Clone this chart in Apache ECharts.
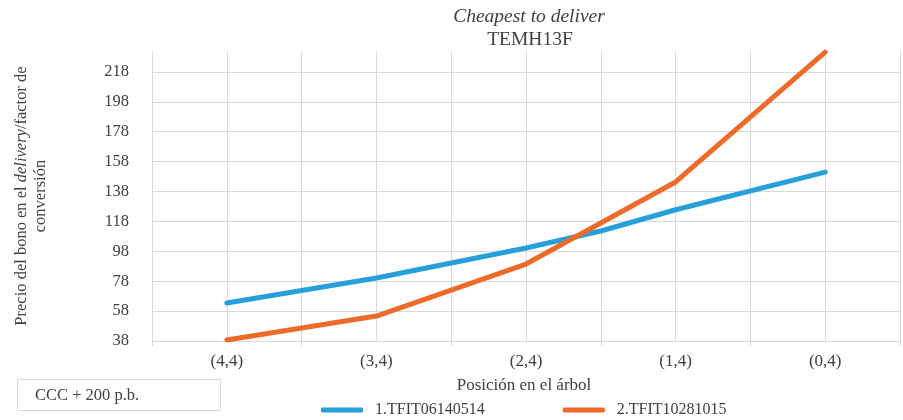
<!DOCTYPE html>
<html>
<head>
<meta charset="utf-8">
<script src="https://cdn.jsdelivr.net/npm/echarts@6/dist/echarts.min.js"></script>
<style>html,body{margin:0;padding:0;background:#fff;}#c{width:903px;height:420px;}</style>
</head>
<body>
<div id="c"></div>
<script>
// Positions along the tree (blank slots are intermediate grid columns)
const positions = ['', '(4,4)', '', '(3,4)', '', '(2,4)', '', '(1,4)', '', '(0,4)', ''];
const seriesNames = ['1.TFIT06140514', '2.TFIT10281015'];
const bond1 = [null, 63.4, null, 80.1, null, 100.2, 111.6, 125.8, null, 151.0, null];
const bond2 = [null, 38.7, null, 54.7, null, 89.5, null, 144.4, null, 231.3, null];
const yMin = 38, yMax = 232, yStep = 20;

const FONT = 'Liberation Serif';
const TXT = '#404040';
const GRID = '#d9d9d9';

const chart = echarts.init(document.getElementById('c'), null, {renderer: 'canvas'});
const nSplit = Math.floor((yMax - yMin) / yStep) + 2;
const splitColors = [];
for (let i = 0; i < nSplit; i++) splitColors.push(i === nSplit - 1 ? 'transparent' : GRID);

chart.setOption({
  animation: false,
  backgroundColor: '#fff',
  grid: {left: 152, right: -1, top: 51, bottom: 79, containLabel: false},
  xAxis: {
    type: 'category',
    data: positions,
    boundaryGap: false,
    axisLine: {show: true, lineStyle: {color: GRID, width: 1}},
    axisTick: {show: true, length: 5, lineStyle: {color: GRID}, interval: (i) => i % 2 === 0},
    axisLabel: {interval: 0, color: TXT, fontFamily: FONT, fontSize: 17, margin: 12},
    splitLine: {show: true, interval: 0, lineStyle: {color: GRID, width: 1}}
  },
  yAxis: {
    type: 'value',
    min: yMin, max: yMax, interval: yStep,
    axisLine: {show: false},
    axisTick: {show: false},
    axisLabel: {color: TXT, fontFamily: FONT, fontSize: 16.5, margin: 23, showMaxLabel: false},
    splitLine: {show: true, lineStyle: {color: splitColors, width: 1}}
  },
  legend: {
    left: 321, top: 402, padding: 0,
    itemWidth: 42, itemHeight: 5, itemGap: 78,
    icon: 'roundRect',
    textStyle: {color: TXT, fontFamily: FONT, fontSize: 16, padding: [0, 0, 0, 7]},
    data: seriesNames
  },
  series: [
    {name: seriesNames[0], type: 'line', data: bond1, connectNulls: true, symbol: 'none', clip: false,
     itemStyle: {color: '#27a0da'},
     lineStyle: {color: '#27a0da', width: 5, cap: 'round', join: 'round'}},
    {name: seriesNames[1], type: 'line', data: bond2, connectNulls: true, symbol: 'none', clip: false,
     itemStyle: {color: '#ee6a28'},
     lineStyle: {color: '#ee6a28', width: 5, cap: 'round', join: 'round'}}
  ],
  graphic: [
    {type: 'text', x: 529, y: 17, style: {text: 'Cheapest to deliver', fill: TXT, font: 'italic 19.5px "Liberation Serif"', align: 'center', verticalAlign: 'middle'}},
    {type: 'text', x: 530, y: 40, style: {text: 'TEMH13F', fill: TXT, font: '19.5px "Liberation Serif"', align: 'center', verticalAlign: 'middle'}},
    {type: 'text', x: 524, y: 386, style: {text: 'Posición en el árbol', fill: TXT, font: '17px "Liberation Serif"', align: 'center', verticalAlign: 'middle'}},
    {type: 'text', x: 31, y: 196, rotation: Math.PI / 2,
     style: {
       text: '{n|Precio del bono en el }{i|delivery}{n|/factor de}\n{n|conversión}',
       align: 'center', verticalAlign: 'middle', fill: TXT,
       rich: {
         n: {fontFamily: FONT, fontSize: 16.5, color: TXT, lineHeight: 19},
         i: {fontFamily: FONT, fontSize: 16.5, fontStyle: 'italic', color: TXT, lineHeight: 19}
       }
     }},
    {type: 'rect', shape: {x: 17.5, y: 379.5, width: 203, height: 31}, style: {fill: '#fff', stroke: GRID, lineWidth: 1}},
    {type: 'text', x: 35, y: 396, style: {text: 'CCC + 200 p.b.', fill: TXT, font: '16.5px "Liberation Serif"', align: 'left', verticalAlign: 'middle'}}
  ]
});
</script>
</body>
</html>
